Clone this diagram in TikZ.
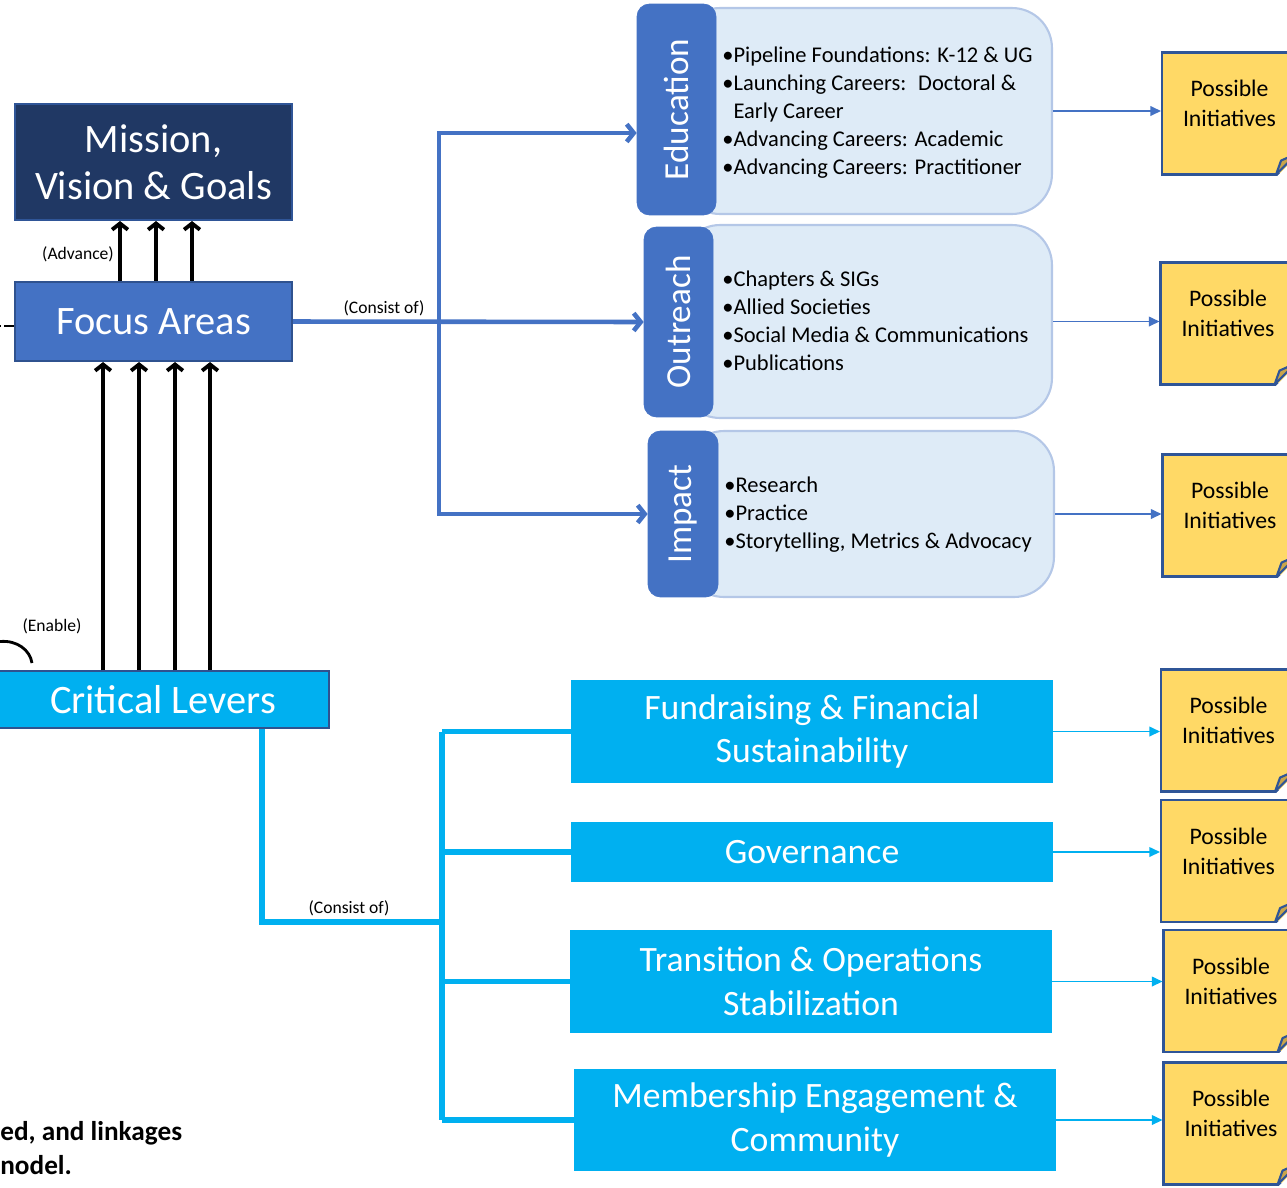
\documentclass[tikz,border=0pt]{standalone}
\usepackage{fontspec}
\setmainfont{Carlito}
\usetikzlibrary{arrows.meta,positioning}

\definecolor{navy}{HTML}{203864}
\definecolor{navyline}{HTML}{2F5597}
\definecolor{boxline}{HTML}{2F528F}
\definecolor{fablue}{HTML}{4472C4}
\definecolor{clcyan}{HTML}{00B0F0}
\definecolor{paleblue}{HTML}{DEEBF7}
\definecolor{paleline}{HTML}{B4C7E7}
\definecolor{noteyellow}{HTML}{FFD966}
\definecolor{notefold}{HTML}{C9A54A}

\tikzset{
  bigbox/.style={draw=boxline, line width=1.2pt, text=white, align=center,
    minimum width=5.54cm, font=\fontsize{23}{27}\selectfont},
  tab/.style={rotate=90, fill=fablue, draw=fablue, rounded corners=0.25cm,
    text=white, font=\fontsize{20}{24}\selectfont},
  content/.style={fill=paleblue, draw=paleline, line width=1.2pt, rounded corners=0.8cm},
  bullets/.style={anchor=west, align=left, inner sep=0pt,
    font=\fontsize{12.8}{15.9}\selectfont},
  lever/.style={fill=clcyan, text=white, align=center, minimum width=9.64cm,
    font=\fontsize{20.3}{25}\selectfont},
  note/.style={fill=noteyellow, draw=navyline, line width=1.2pt,
    minimum width=2.7cm, minimum height=2.44cm, align=center, text depth=0.4cm,
    font=\fontsize{13.5}{17}\selectfont},
  lbl/.style={font=\fontsize{10}{12}\selectfont, inner sep=1pt},
  adv/.style={-{Straight Barb[length=3.5pt,width=9pt]}, line width=2.2pt},
  faline/.style={draw=fablue, line width=2.6pt},
  fatip/.tip={Straight Barb[length=4pt,width=10pt]},
  clline/.style={draw=clcyan, line width=3.2pt},
  tonote/.style={-{Triangle[length=6pt,width=5.5pt]}, line width=0.8pt},
}

\begin{document}
\begin{tikzpicture}[x=0.02cm, y=-0.02cm]
  \useasboundingbox (0,0) rectangle (1287,1187);
  \clip (0,0) rectangle (1287,1187);

  % Left column
  \node[bigbox, fill=navy, draw=navyline, minimum height=2.32cm] (mission) at (153.5,162) {Mission,\\Vision \& Goals};
  \node[bigbox, fill=fablue, minimum height=1.58cm] (focus) at (153.5,321.5) {Focus Areas};
  \node[bigbox, fill=clcyan, line width=0.8pt, minimum width=6.64cm, minimum height=1.14cm] (levers) at (163,699.5) {Critical Levers};

  \foreach \x in {120,156,192}
    \draw[adv] (\x,0 |- focus.north) -- (\x,0 |- mission.south);
  \node[lbl] (advance) at (78,254) {(Advance)};
  \foreach \x in {103,139,175,210}
    \draw[adv] (\x,0 |- levers.north) -- (\x,0 |- focus.south);

  % Cut-off links on the left
  \coordinate (offleft) at (-30,326);
  \draw[line width=1.6pt, dash pattern=on 5.7pt off 1.7pt] (focus.west |- offleft) -- (offleft);
  \draw[line width=1.6pt] (0,641.5) .. controls (17,640) and (30,650) .. (32,663);
  \node[lbl] (enable) at (52,626) {(Enable)};

  % Focus areas
  \node[content, minimum width=7.44cm, minimum height=4.12cm] (educ) at (866,111) {};
  \node[content, minimum width=7.44cm, minimum height=3.86cm] (outc) at (866,321.5) {};
  \node[content, minimum width=7.40cm, minimum height=3.32cm] (impc) at (869,514) {};
  \node[tab, minimum width=4.22cm, minimum height=1.58cm] (edu) at (676.5,109.5) {Education};
  \node[tab, minimum width=3.80cm, minimum height=1.38cm] (outr) at (678.5,322) {Outreach};
  \node[tab, minimum width=3.32cm, minimum height=1.40cm] (imp) at (683,514) {Impact};

  \node[bullets] (edutext) at (722,112.5) {•Pipeline Foundations: K-12 \& UG\\•Launching Careers:~ Doctoral \&\\\phantom{•}Early Career\\•Advancing Careers: Academic\\•Advancing Careers: Practitioner};
  \node[bullets] (outtext) at (722,320.5) {•Chapters \& SIGs\\•Allied Societies\\•Social Media \& Communications\\•Publications};
  \node[bullets] (imptext) at (724,515) {•Research\\•Practice\\•Storytelling, Metrics \& Advocacy};

  \coordinate (busE) at (439,133);
  \coordinate (busI) at (439,514);
  \draw[faline, -fatip] (focus.east) -- (outr.north);
  \draw[faline, fatip-fatip] (busE -| edu.north) -| (busI) -- (imp.north);
  \node[lbl] (consist1) at (384,308) {(Consist of)};

  % Critical levers
  \node[lever, minimum height=2.06cm] (lv1) at (812,731.5) {Fundraising \& Financial\\Sustainability};
  \node[lever, minimum height=1.20cm] (lv2) at (812,852) {Governance};
  \node[lever, minimum height=2.06cm] (lv3) at (811,981.5) {Transition \& Operations\\Stabilization};
  \node[lever, minimum height=2.04cm] (lv4) at (815,1120) {Membership Engagement \&\\Community};

  \coordinate (clbus) at (442,922);
  \draw[clline] ([xshift=1.98cm]levers.south) |- (clbus);
  \draw[clline] (lv1.west -| clbus) -- (lv4.west -| clbus);
  \foreach \i in {1,...,4}
    \draw[clline] (lv\i.west -| clbus) -- (lv\i.west);
  \node[lbl] (consist2) at (349,908) {(Consist of)};

  % Possible initiatives (folded notes)
  \foreach \n/\x/\y in {n1/1229.5/113.5, n2/1228/323.5, n3/1230/515.5, n4/1228.5/730.5,
                        n5/1228.5/861, n6/1231/991, n7/1231/1123.5} {
    \node[note] (\n) at (\x,\y) {Possible\\Initiatives};
    \fill[white] ([xshift=-0.44cm,yshift=-1pt]\n.south east) -- ([xshift=1pt,yshift=-1pt]\n.south east)
      -- ([xshift=1pt,yshift=0.44cm]\n.south east) -- cycle;
    \filldraw[fill=notefold, draw=navyline, line width=1.2pt, line join=round]
      ([xshift=-0.44cm,yshift=0.6pt]\n.south east) -- ([xshift=-0.34cm,yshift=0.3cm]\n.south east)
      -- ([xshift=-0.6pt,yshift=0.44cm]\n.south east) -- cycle;
  }

  \draw[tonote, fablue] (educ.east) -- (educ.east -| n1.west);
  \draw[tonote, fablue] (outc.east) -- (outc.east -| n2.west);
  \draw[tonote, fablue] (impc.east) -- (impc.east -| n3.west);
  \draw[tonote, clcyan] (lv1.east) -- (lv1.east -| n4.west);
  \draw[tonote, clcyan] (lv2.east) -- (lv2.east -| n5.west);
  \draw[tonote, clcyan] (lv3.east) -- (lv3.east -| n6.west);
  \draw[tonote, clcyan] (lv4.east) -- (lv4.east -| n7.west);

  % Caption fragment
  \node[anchor=west, align=left, inner sep=0pt, font=\fontsize{15.5}{19.3}\bfseries\selectfont] (caption) at (0,1148) {ed, and linkages\\nodel.};
\end{tikzpicture}
\end{document}
